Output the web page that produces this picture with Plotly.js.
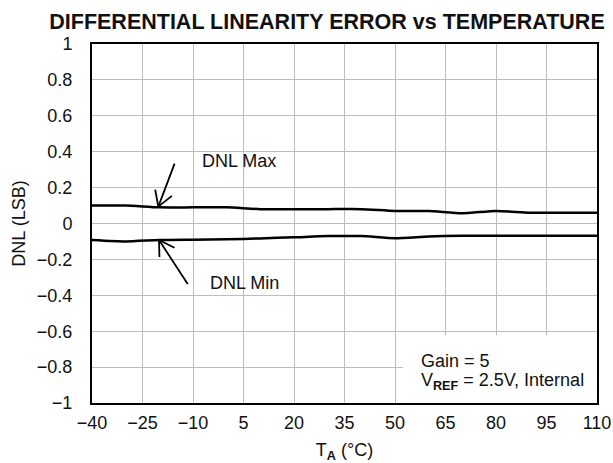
<!DOCTYPE html>
<html>
<head>
<meta charset="utf-8">
<script src="https://cdn.plot.ly/plotly-3.0.1.min.js"></script>
<style>html,body{margin:0;padding:0;background:#fff;}#chart{width:613px;height:463px;}</style>
</head>
<body>
<div id="chart"></div>
<script>
const temps = [-40, -30, -20, -10, 0, 10, 20, 30, 40, 50, 60, 70, 80, 90, 100, 110];
const dnlMax = [0.10, 0.10, 0.09, 0.09, 0.09, 0.08, 0.08, 0.08, 0.08, 0.07, 0.07, 0.057, 0.07, 0.06, 0.06, 0.06];
const dnlMin = [-0.092, -0.10, -0.092, -0.09, -0.088, -0.083, -0.077, -0.07, -0.07, -0.082, -0.072, -0.068, -0.068, -0.068, -0.068, -0.068];
const xTicks = [-40, -25, -10, 5, 20, 35, 50, 65, 80, 95, 110];
const yTicks = [-1, -0.8, -0.6, -0.4, -0.2, 0, 0.2, 0.4, 0.6, 0.8, 1];
const yTickText = ['\u22121', '\u22120.8', '\u22120.6', '\u22120.4', '\u22120.2', '0', '0.2', '0.4', '0.6', '0.8', '1'];
const xTickText = xTicks.map(v => v < 0 ? '\u2212' + Math.abs(v) : String(v));

const font = {family: 'Liberation Sans, Arial, sans-serif', size: 18, color: '#111'};
const lineStyle = {color: '#000', width: 2.5, shape: 'spline', smoothing: 0.6};

const traces = [
  {x: temps, y: dnlMax, mode: 'lines', line: lineStyle, name: 'DNL Max', hoverinfo: 'skip'},
  {x: temps, y: dnlMin, mode: 'lines', line: lineStyle, name: 'DNL Min', hoverinfo: 'skip'}
];

function arrowLine(x, y, ax, ay) {
  return {x: x, y: y, xref: 'x', yref: 'y', text: ' ', showarrow: true, ax: ax, ay: ay,
          arrowhead: 0, arrowwidth: 1.8, arrowcolor: '#000', standoff: 0, startstandoff: 0, font: {size: 1}};
}

const layout = {
  width: 613, height: 463,
  margin: {l: 92, r: 16, t: 44, b: 60},
  paper_bgcolor: '#fff', plot_bgcolor: '#fff',
  showlegend: false,
  font: font,
  title: {text: '<b>DIFFERENTIAL LINEARITY ERROR vs TEMPERATURE</b>', font: {family: 'Liberation Sans, Arial, sans-serif', size: 21.5, color: '#111'}, x: 327/613, xanchor: 'center', y: 1 - 21/463, yanchor: 'middle', xref: 'container', yref: 'container'},
  xaxis: {
    range: [-40, 110], tickvals: xTicks, ticktext: xTickText, showgrid: true, gridcolor: '#bdbdbd', gridwidth: 1,
    zeroline: false, showline: true, linecolor: '#000', linewidth: 2, mirror: true, ticks: '',
    tickfont: font, ticklabelstandoff: 2,
    title: {text: 'T<sub><b>A</b></sub> (°C)', font: font, standoff: 12}
  },
  yaxis: {
    range: [-1, 1], tickvals: yTicks, ticktext: yTickText, showgrid: true, gridcolor: '#bdbdbd', gridwidth: 1,
    zeroline: false, showline: true, linecolor: '#000', linewidth: 2, mirror: true, ticks: '',
    tickfont: font, ticklabelstandoff: 14,
    title: {text: 'DNL (LSB)', font: font, standoff: 7}
  },
  shapes: [
    {type: 'rect', xref: 'x', yref: 'y', x0: 52.4, x1: 110, y0: -1, y1: -0.622, fillcolor: '#fff', line: {width: 0}, layer: 'between'}
  ],
  annotations: [
    arrowLine(-20.3, 0.094, 17, -45),
    arrowLine(-20.3, 0.094, -3.5, -19),
    arrowLine(-20.3, 0.094, 15, -12),
    arrowLine(-20.1, -0.092, 30, 46),
    arrowLine(-20.1, -0.092, 0.5, 19),
    arrowLine(-20.1, -0.092, 17, 8.5),
    {x: (200-92)/505, y: 1 - (161-44)/359, xref: 'paper', yref: 'paper', text: 'DNL Max', showarrow: false, xanchor: 'left', yanchor: 'middle', font: font},
    {x: (208-92)/505, y: 1 - (283-44)/359, xref: 'paper', yref: 'paper', text: 'DNL Min', showarrow: false, xanchor: 'left', yanchor: 'middle', font: font},
    {x: (419-92)/505, y: 1 - (361-44)/359, xref: 'paper', yref: 'paper', text: 'Gain = 5', align: 'left', showarrow: false, xanchor: 'left', yanchor: 'middle', font: font},
    {x: (419-92)/505, y: 1 - (381-44)/359, xref: 'paper', yref: 'paper', text: 'V<sub><b>REF</b></sub> = 2.5V, Internal', align: 'left', showarrow: false, xanchor: 'left', yanchor: 'middle', font: font}
  ]
};

Plotly.newPlot('chart', traces, layout, {staticPlot: true, displayModeBar: false});
</script>
</body>
</html>
